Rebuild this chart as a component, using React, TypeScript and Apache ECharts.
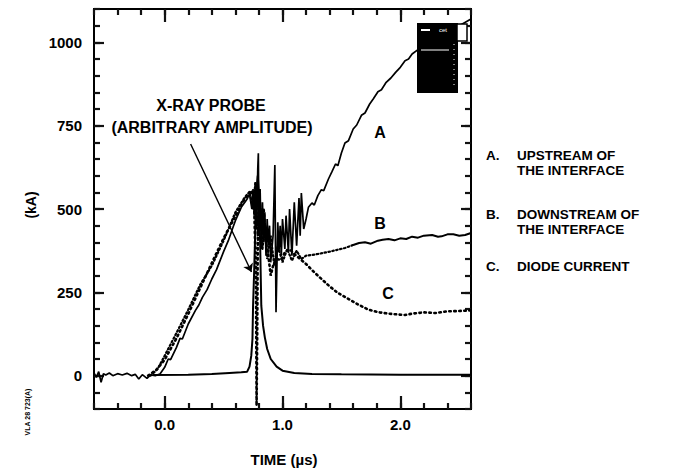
import React, { useEffect, useRef } from "react";
import * as echarts from "echarts";

// ---- data (time in µs, current in kA) ----
const seriesA: [number, number][] = [
  [-0.6, 8], [-0.58, -5], [-0.56, 12], [-0.54, -20], [-0.52, 6], [-0.5, 2], [-0.47, 8], [-0.44, 0],
  [-0.4, 6], [-0.36, 2], [-0.32, 7], [-0.28, 0], [-0.25, 4], [-0.22, -10], [-0.19, 3], [-0.15, -8],
  [-0.12, 2], [-0.08, 0], [-0.04, 5],
  [0.0, 25], [0.03, 50], [0.05, 48], [0.1, 85], [0.13, 112], [0.15, 110], [0.2, 155], [0.26, 195],
  [0.29, 212], [0.32, 235], [0.36, 258], [0.4, 290], [0.44, 318], [0.47, 345], [0.5, 372], [0.54, 405],
  [0.58, 445], [0.6, 465], [0.65, 505], [0.7, 530], [0.72, 545],
  [0.74, 500], [0.75, 560], [0.76, 480], [0.77, 580], [0.78, 440], [0.79, 620], [0.795, 667], [0.8, 420],
  [0.81, 560], [0.82, 380], [0.83, 520], [0.84, 400], [0.85, 490], [0.86, 360], [0.87, 470], [0.88, 390],
  [0.89, 450], [0.9, 340], [0.92, 420], [0.935, 632], [0.945, 190], [0.96, 460], [0.97, 370], [0.98, 450],
  [0.99, 360], [1.0, 470], [1.02, 380], [1.03, 480], [1.05, 370], [1.06, 500], [1.08, 360], [1.1, 520],
  [1.12, 390], [1.14, 533], [1.15, 420], [1.16, 548], [1.18, 440], [1.2, 470], [1.22, 505],
  [1.25, 518], [1.27, 512], [1.3, 540], [1.33, 558], [1.35, 555], [1.39, 590], [1.42, 612], [1.45, 635],
  [1.47, 630], [1.5, 668], [1.53, 698], [1.56, 705], [1.6, 740], [1.63, 752], [1.67, 781], [1.7, 788],
  [1.74, 815], [1.77, 830], [1.81, 852], [1.84, 858], [1.88, 880], [1.92, 893], [1.96, 910], [2.0, 925],
  [2.04, 945], [2.07, 950], [2.1, 965], [2.15, 978], [2.2, 990], [2.3, 1010], [2.4, 1030], [2.5, 1050],
  [2.6, 1070],
];

const seriesBEarly: [number, number][] = [
  [-0.12, 0], [-0.06, 20], [0.0, 60], [0.1, 128], [0.2, 198], [0.3, 272], [0.4, 330], [0.5, 405],
  [0.6, 490], [0.68, 535], [0.72, 552], [0.75, 500], [0.77, 580], [0.79, 420], [0.81, 520], [0.83, 380],
  [0.85, 450], [0.87, 350], [0.9, 420], [0.93, 330], [0.96, 390], [1.0, 340], [1.04, 380], [1.08, 345],
  [1.12, 375], [1.16, 350], [1.2, 360], [1.25, 362], [1.3, 365], [1.4, 372], [1.53, 383], [1.6, 392],
];

const seriesBLate: [number, number][] = [
  [1.6, 392], [1.65, 398], [1.7, 400], [1.75, 396], [1.81, 405], [1.85, 408], [1.9, 410], [1.95, 406],
  [2.0, 412], [2.05, 410], [2.1, 417], [2.15, 414], [2.2, 420], [2.27, 422], [2.32, 417], [2.35, 418],
  [2.4, 424], [2.45, 424], [2.5, 420], [2.55, 422], [2.6, 428],
];

const seriesC: [number, number][] = [
  [-0.14, 0], [-0.07, 18], [0.0, 48], [0.1, 112], [0.2, 185], [0.3, 262], [0.4, 338], [0.5, 412],
  [0.6, 478], [0.66, 520], [0.7, 540], [0.74, 555], [0.76, 500], [0.775, 300], [0.78, -90], [0.785, 100],
  [0.79, 380], [0.8, 560], [0.82, 450], [0.84, 500], [0.86, 400], [0.88, 360], [0.9, 300], [0.92, 330],
  [0.95, 350], [0.99, 347], [1.02, 370], [1.06, 380], [1.1, 365], [1.2, 335], [1.25, 317], [1.3, 300],
  [1.4, 268], [1.47, 248], [1.55, 232], [1.65, 212], [1.73, 198], [1.82, 190], [1.9, 186], [2.0, 183],
  [2.04, 182], [2.1, 186], [2.2, 190], [2.3, 188], [2.4, 193], [2.5, 194], [2.6, 196],
];

const seriesProbe: [number, number][] = [
  [-0.1, 2], [0.2, 3], [0.4, 5], [0.55, 8], [0.65, 10], [0.7, 12], [0.72, 27], [0.735, 60], [0.745, 110],
  [0.75, 207], [0.76, 320], [0.77, 450], [0.78, 560], [0.79, 600], [0.8, 540], [0.81, 400], [0.82, 210],
  [0.835, 150], [0.85, 115], [0.87, 80], [0.9, 50], [0.95, 27], [1.0, 15], [1.1, 8], [1.25, 5],
  [1.5, 4], [2.0, 3], [2.6, 3],
];

const arrowFrom: [number, number] = [0.22, 695];
const arrowTo: [number, number] = [0.737, 311];

const xMajorTicks = [0, 1, 2];
const yMajorTicks = [0, 250, 500, 750, 1000];

const legendLines = [
  { key: "A.", lines: ["UPSTREAM OF", "THE INTERFACE"] },
  { key: "B.", lines: ["DOWNSTREAM OF", "THE INTERFACE"] },
  { key: "C.", lines: ["DIODE CURRENT"] },
];

const FONT = "'Liberation Sans', Arial, Helvetica, sans-serif";
const INK = "#111111";

// major axis: box line, labels and long ticks (custom values);
// minor axis: short ticks every 0.2 µs / 50 kA through the scale's own interval.
function makeX(position: "top" | "bottom", major: boolean, withLabels: boolean) {
  return {
    type: "value",
    min: -0.6,
    max: 2.6,
    interval: 0.2,
    position,
    axisLine: { show: true, onZero: false, lineStyle: { color: "#000", width: 2 } },
    axisTick: major
      ? { show: true, inside: true, length: 13, customValues: xMajorTicks, lineStyle: { color: INK, width: 2.2 } }
      : { show: true, inside: true, length: 6, lineStyle: { color: INK, width: 2.2 } },
    axisLabel: withLabels
      ? {
          show: true,
          customValues: xMajorTicks,
          formatter: (v: number) => v.toFixed(1),
          color: "#000",
          fontFamily: FONT,
          fontWeight: "bold",
          fontSize: 15,
          margin: 8,
        }
      : { show: false },
    splitLine: { show: false },
  };
}

function makeY(position: "left" | "right", major: boolean, withLabels: boolean) {
  return {
    type: "value",
    min: -100,
    max: 1100,
    interval: 50,
    position,
    axisLine: { show: true, onZero: false, lineStyle: { color: "#000", width: 2 } },
    axisTick: major
      ? { show: true, inside: true, length: 10, customValues: yMajorTicks, lineStyle: { color: INK, width: 2.2 } }
      : { show: true, inside: true, length: 6, lineStyle: { color: INK, width: 2.2 } },
    axisLabel: withLabels
      ? {
          show: true,
          customValues: yMajorTicks,
          formatter: (v: number) => String(v),
          color: "#000",
          fontFamily: FONT,
          fontWeight: "bold",
          fontSize: 15,
          margin: 12,
        }
      : { show: false },
    splitLine: { show: false },
  };
}

export default function App() {
  const ref = useRef<HTMLDivElement>(null);

  useEffect(() => {
    if (!ref.current) return;
    const chart = echarts.init(ref.current, null, { renderer: "svg" });

    const textStyle = (text: string, size: number) => ({
      text,
      fill: "#000",
      font: `bold ${size}px ${FONT}`,
    });

    const legendGraphics: any[] = [];
    const legendY = [155, 214, 266];
    legendLines.forEach((item, i) => {
      legendGraphics.push({
        type: "text",
        x: 486,
        y: legendY[i],
        style: { ...textStyle(item.key, 13.5), textVerticalAlign: "middle" },
        z: 50,
      });
      item.lines.forEach((ln, j) => {
        legendGraphics.push({
          type: "text",
          x: 517,
          y: legendY[i] + j * 15,
          style: { ...textStyle(ln, 13.5), textVerticalAlign: "middle" },
          z: 50,
        });
      });
    });

    const lineSeries = (name: string, data: [number, number][], lineStyle: any) => ({
      name,
      type: "line",
      data,
      xAxisIndex: 0,
      yAxisIndex: 0,
      showSymbol: false,
      symbol: "none",
      lineStyle,
      z: 3,
    });

    const option: any = {
      animation: false,
      backgroundColor: "#fff",
      grid: { left: 94, top: 9, width: 377, height: 400, containLabel: false },
      xAxis: [
        makeX("bottom", true, true),
        makeX("bottom", false, false),
        makeX("top", true, false),
        makeX("top", false, false),
      ],
      yAxis: [
        makeY("left", true, true),
        makeY("left", false, false),
        makeY("right", true, false),
        makeY("right", false, false),
      ],
      series: [
        lineSeries("A", seriesA, { color: "#000", width: 1.7 }),
        lineSeries("B", seriesBEarly, { color: "#000", width: 2.2, type: [1.5, 2.5], cap: "round" }),
        lineSeries("B late", seriesBLate, { color: "#000", width: 2 }),
        lineSeries("C", seriesC, { color: "#000", width: 2.6, type: [1.5, 3.5], cap: "round" }),
        {
          ...lineSeries("Probe", seriesProbe, { color: "#000", width: 2 }),
          markLine: {
            silent: true,
            symbol: ["none", "arrow"],
            symbolSize: 8,
            label: { show: false },
            lineStyle: { color: "#000", width: 1.4, type: "solid" },
            data: [[{ coord: arrowFrom }, { coord: arrowTo }]],
          },
        },
      ],
      graphic: [
        {
          type: "text",
          x: 211,
          y: 105,
          style: { ...textStyle("X-RAY PROBE", 16), textAlign: "center", textVerticalAlign: "middle" },
          z: 50,
        },
        {
          type: "text",
          x: 212,
          y: 127,
          style: { ...textStyle("(ARBITRARY AMPLITUDE)", 16), textAlign: "center", textVerticalAlign: "middle" },
          z: 50,
        },
        { type: "text", x: 380, y: 132, style: { ...textStyle("A", 16), textAlign: "center", textVerticalAlign: "middle" }, z: 50 },
        { type: "text", x: 380, y: 223, style: { ...textStyle("B", 16), textAlign: "center", textVerticalAlign: "middle" }, z: 50 },
        { type: "text", x: 388, y: 293, style: { ...textStyle("C", 16), textAlign: "center", textVerticalAlign: "middle" }, z: 50 },
        {
          type: "text",
          x: 31,
          y: 205,
          rotation: Math.PI / 2,
          style: { ...textStyle("(kA)", 14), textAlign: "center", textVerticalAlign: "middle" },
          z: 50,
        },
        {
          type: "text",
          x: 284,
          y: 459,
          style: { ...textStyle("TIME (µs)", 15), textAlign: "center", textVerticalAlign: "middle" },
          z: 50,
        },
        {
          type: "text",
          x: 27,
          y: 412,
          rotation: Math.PI / 2,
          style: { text: "VLA 28 723(A)", fill: "#000", font: `bold 7px ${FONT}`, textAlign: "center", textVerticalAlign: "middle" },
          z: 50,
        },
        {
          type: "group",
          z: 100,
          children: [
            { type: "rect", shape: { x: 417, y: 23, width: 41, height: 70 }, style: { fill: "#000" }, z: 100 },
            { type: "rect", shape: { x: 457, y: 24, width: 10, height: 17 }, style: { fill: "#fff", stroke: "#000", lineWidth: 1.5 }, z: 101 },
            { type: "rect", shape: { x: 421, y: 29, width: 9, height: 2 }, style: { fill: "#fff" }, z: 101 },
            { type: "text", x: 439, y: 30, style: { text: "cet", fill: "#fff", font: `6px ${FONT}`, textVerticalAlign: "middle" }, z: 101 },
            { type: "line", shape: { x1: 421, y1: 50, x2: 449, y2: 50 }, style: { stroke: "#fff", lineWidth: 1 }, z: 101 },
            { type: "line", shape: { x1: 454, y1: 44, x2: 454, y2: 88 }, style: { stroke: "#fff", lineWidth: 1, lineDash: [1, 4] }, z: 101 },
          ],
        },
        ...legendGraphics,
      ],
    };

    chart.setOption(option);
    return () => chart.dispose();
  }, []);

  return <div ref={ref} style={{ position: "absolute", left: 0, top: 0, width: 680, height: 470 }} />;
}
